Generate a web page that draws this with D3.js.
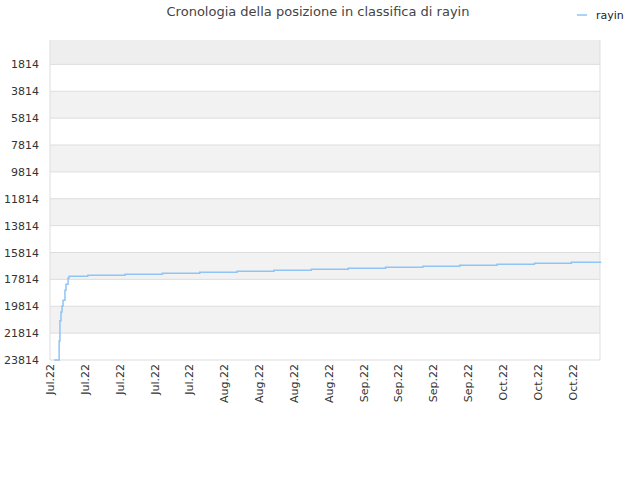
<!DOCTYPE html>
<html><head><meta charset="utf-8">
<script src="https://cdn.jsdelivr.net/npm/d3@7"></script>
<style>body{margin:0;background:#fff;font-family:"DejaVu Sans",sans-serif;}</style>
</head><body><div id="chart"></div>
<script>
// rank history (lower is better)
const dates = ["2022-07-03T20:00","2022-07-04T20:00","2022-07-05T00:00","2022-07-05T05:00","2022-07-05T10:00",
  "2022-07-05T15:00","2022-07-06T00:00","2022-07-06T05:00","2022-07-06T15:00","2022-07-06T20:00",
  "2022-07-10T14:00","2022-07-18T02:00","2022-07-25T14:00","2022-08-02T02:00","2022-08-09T14:00",
  "2022-08-17T00:00","2022-08-24T12:00","2022-08-31T22:00","2022-09-08T10:00","2022-09-15T22:00",
  "2022-09-23T08:00","2022-09-30T20:00","2022-10-08T08:00","2022-10-15T18:00","2022-10-21T18:00"];
const ranks = [23814,22400,20900,20250,19800,19360,18620,18170,17720,17580,
  17500,17430,17350,17280,17200,17130,17060,16980,16910,16830,
  16760,16690,16610,16540,16540];
const yTicks = [1814,3814,5814,7814,9814,11814,13814,15814,17814,19814,21814,23814];
const seriesName = "rayin";

const W = 640, H = 480, L = 50, R = 600, T = 40, B = 360;
const svg = d3.select("#chart").append("svg").attr("width", W).attr("height", H);
const parse = d3.timeParse("%Y-%m-%dT%H:%M");
const data = dates.map((d, i) => ({date: parse(d), rank: ranks[i]}));

const x = d3.scaleTime().domain([new Date(2022, 6, 3), new Date(2022, 9, 21, 12)]).range([L, R]);
const y = d3.scaleLinear().domain([0, 23814]).range([T, B]);

// alternating bands
const edges = [0].concat(yTicks);
for (let i = 0; i < edges.length - 1; i++) {
  if (i % 2 === 0) {
    svg.append("rect").attr("x", L).attr("width", R - L)
      .attr("y", y(edges[i])).attr("height", y(edges[i + 1]) - y(edges[i]))
      .attr("fill", i === 0 ? "#eeeeee" : "#f2f2f2");
  }
}
svg.selectAll(".grid").data(yTicks).join("line")
  .attr("x1", L).attr("x2", R).attr("y1", d => y(d)).attr("y2", d => y(d))
  .attr("stroke", "#dddddd");
svg.append("line").attr("x1", R).attr("x2", R).attr("y1", T).attr("y2", B).attr("stroke", "#dddddd");
svg.append("line").attr("x1", L).attr("x2", L).attr("y1", T).attr("y2", B).attr("stroke", "#dddddd");

// y labels
svg.selectAll(".yl").data(yTicks).join("text")
  .attr("x", L - 11).attr("y", d => y(d) + 4).attr("text-anchor", "end")
  .attr("font-size", 11).attr("fill", "#333").text(d => d);

// x labels, weekly
const xTicks = d3.timeWeek.range(new Date(2022, 6, 3), new Date(2022, 9, 17));
const fmt = d3.timeFormat("%b.%y");
svg.selectAll(".xl").data(xTicks).join("text")
  .attr("transform", d => `translate(${x(d) + 4},${B + 4}) rotate(-90)`)
  .attr("text-anchor", "end").attr("font-size", 11).attr("fill", "#333")
  .text(d => fmt(d));

// line
svg.append("path").datum(data)
  .attr("fill", "none").attr("stroke", "#90c4f4").attr("stroke-width", 1.5)
  .attr("d", d3.line().curve(d3.curveStepAfter).x(d => x(d.date)).y(d => y(d.rank)));

// title
svg.append("text").attr("x", 318).attr("y", 16).attr("text-anchor", "middle")
  .attr("font-size", 13).attr("fill", "#444")
  .text("Cronologia della posizione in classifica di " + seriesName);

// legend
svg.append("line").attr("x1", 577).attr("x2", 587).attr("y1", 15).attr("y2", 15)
  .attr("stroke", "#90c4f4").attr("stroke-width", 1.5);
svg.append("text").attr("x", 596).attr("y", 19).attr("font-size", 11).attr("fill", "#222").text(seriesName);
</script></body></html>
